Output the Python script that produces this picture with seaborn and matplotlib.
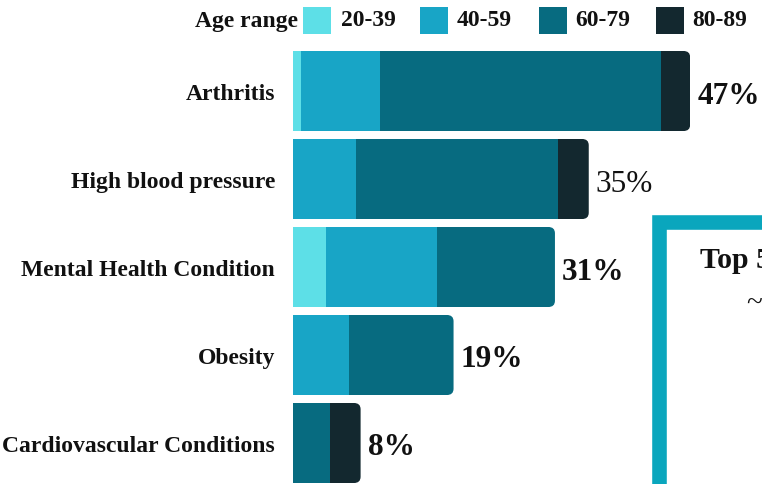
import matplotlib
matplotlib.use("Agg")
import matplotlib.pyplot as plt
from matplotlib.patches import FancyBboxPatch, Rectangle
import numpy as np
import pandas as pd
import seaborn as sns

# Share of people (%) reporting each chronic condition, split by age range
categories = ["Arthritis", "High blood pressure", "Mental Health Condition",
              "Obesity", "Cardiovascular Conditions"]
age_groups = ["20-39", "40-59", "60-79", "80-89"]
age_20_39 = [1.0, 0.0, 3.9, 0.0, 0.0]
age_40_59 = [9.3, 7.4, 13.1, 6.6, 0.0]
age_60_79 = [33.3, 24.0, 14.0, 12.4, 4.4]
age_80_89 = [3.4, 3.6, 0.0, 0.0, 3.6]
total_labels = [47, 35, 31, 19, 8]

palette = ["#5ddfe7", "#18a5c6", "#076b80", "#13282f"]
box_color = "#0aa6bd"

sns.set_theme(style="white")
plt.rcParams["font.family"] = ["Liberation Serif", "DejaVu Serif"]

W, H = 762, 485
fig = plt.figure(figsize=(W / 100, H / 100), dpi=100)
fig.patch.set_facecolor("white")

def fx(px):
    return px / W

def fy(py):
    return 1 - py / H

ax = fig.add_axes([fx(293), 0, fx(W - 293), 1])

df = pd.DataFrame({"condition": categories,
                   "20-39": age_20_39, "40-59": age_40_59,
                   "60-79": age_60_79, "80-89": age_80_89})

left = np.zeros(len(categories))
for group, color in zip(age_groups, palette):
    vals = df[group].to_numpy()
    sns.barplot(data=df, y="condition", x=group, left=left.copy(),
                color=color, saturation=1, width=0.91, linewidth=0,
                ax=ax, orient="h")
    left = left + vals

totals = left

# Round the right end of each stacked bar
clips = []
for i, tot in enumerate(totals):
    clip = FancyBboxPatch((-5, i - 0.455), tot + 5, 0.91,
                          boxstyle="round,pad=0,rounding_size=0.8",
                          mutation_aspect=0.089,
                          transform=ax.transData)
    clips.append(clip)
for bar in ax.patches:
    row = int(round(bar.get_y() + bar.get_height() / 2))
    if 0 <= row < len(clips):
        bar.set_clip_path(clips[row])

ax.set_xlim(0, (W - 293) / 8.45)
ax.set_ylim((H - 92) / 88, -92 / 88)
ax.set_xlabel("")
ax.set_ylabel("")
ax.set_xticks([])
sns.despine(ax=ax, left=True, bottom=True)
ax.tick_params(axis="y", length=0, pad=13)
for lab in ax.get_yticklabels():
    lab.set_fontweight("bold")
    lab.set_fontsize(17)
    lab.set_color("#111111")

for i, (tot, lab) in enumerate(zip(totals, total_labels)):
    ax.annotate(f"{lab}%", xy=(tot, i), xytext=(7, -4),
                textcoords="offset pixels", ha="left", va="center",
                fontsize=22.5, fontweight="normal" if lab == 35 else "bold",
                color="#111111", annotation_clip=False)

# Legend row across the top
fig.text(fx(298), fy(21), "Age range", ha="right", va="center",
         fontsize=17, fontweight="bold", color="#111111")
sw_x = [303, 420, 539, 656]
lab_x = [341, 457, 575, 692]
for sx, lx, color, group in zip(sw_x, lab_x, palette, age_groups):
    fig.add_artist(Rectangle((fx(sx), fy(35)), 28 / W, 27 / H,
                             transform=fig.transFigure, facecolor=color,
                             edgecolor="none"))
    fig.text(fx(lx), fy(21), group, ha="left", va="center",
             fontsize=17, fontweight="bold", color="#111111")

# Side panel running off the edge
fig.add_artist(Rectangle((fx(659), fy(700)), 400 / W, (700 - 223) / H,
                         transform=fig.transFigure, facecolor="white",
                         edgecolor=box_color, linewidth=10.5,
                         clip_on=False, zorder=5))
fig.text(fx(700), fy(260), "Top 5", ha="left", va="center",
         fontsize=21.5, fontweight="bold", color="#111111", zorder=6)
fig.text(fx(746), fy(305), "~", ha="left", va="center",
         fontsize=21, color="#111111", zorder=6)

fig.savefig("out.png", dpi=100, facecolor="white")
